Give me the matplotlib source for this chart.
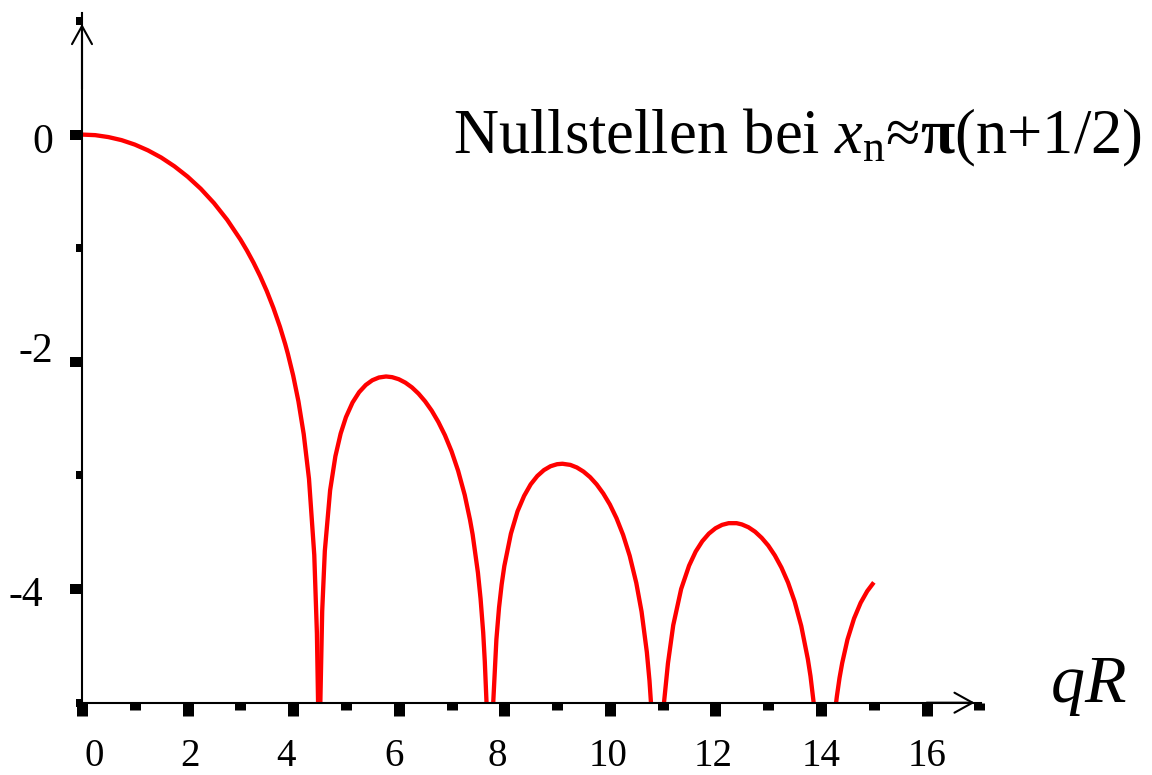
import numpy as np
import matplotlib
matplotlib.use("Agg")
import matplotlib.pyplot as plt

# log10 of the sphere form factor |F(qR)|^2, one list per lobe between the zeros
lobe_qr = [
    [0.0, 0.25, 0.5, 0.75, 1.0, 1.25, 1.5, 1.75, 2.0, 2.25, 2.5, 2.75, 3.0,
     3.125, 3.25, 3.375, 3.5, 3.625, 3.75, 3.85, 3.9, 4.0, 4.1, 4.2, 4.3, 4.4,
     4.45, 4.472],
    [4.515, 4.55, 4.6, 4.7, 4.8, 4.9, 5.0, 5.125, 5.25, 5.375, 5.5, 5.625,
     5.76, 5.875, 6.0, 6.125, 6.25, 6.375, 6.5, 6.625, 6.75, 6.875, 7.0, 7.125,
     7.25, 7.35, 7.4, 7.5, 7.55, 7.6, 7.63, 7.663],
    [7.79, 7.85, 7.9, 7.95, 8.0, 8.125, 8.25, 8.375, 8.5, 8.625, 8.75, 8.875,
     9.0, 9.1, 9.25, 9.375, 9.5, 9.625, 9.75, 9.875, 10.0, 10.125, 10.25,
     10.375, 10.5, 10.6, 10.7, 10.75, 10.778],
    [11.025, 11.1, 11.2, 11.35, 11.5, 11.625, 11.75, 11.875, 12.0, 12.125,
     12.25, 12.4, 12.5, 12.625, 12.75, 12.875, 13.0, 13.125, 13.25, 13.375,
     13.5, 13.625, 13.75, 13.8, 13.86],
    [14.285, 14.3, 14.35, 14.4, 14.5, 14.625, 14.75, 14.875, 15.0],
]
lobe_logI = [
    [0.0, -0.005, -0.022, -0.049, -0.088, -0.139, -0.202, -0.279, -0.370,
     -0.477, -0.603, -0.750, -0.923, -1.021, -1.128, -1.246, -1.377, -1.525,
     -1.692, -1.845, -1.930, -2.120, -2.348, -2.636, -3.03, -3.70, -4.39,
     -5.0],
    [-5.0, -4.194, -3.664, -3.131, -2.831, -2.631, -2.487, -2.358, -2.267,
     -2.204, -2.162, -2.138, -2.129, -2.135, -2.153, -2.183, -2.225, -2.280,
     -2.348, -2.430, -2.529, -2.646, -2.787, -2.959, -3.172, -3.390, -3.520,
     -3.855, -4.084, -4.383, -4.635, -5.0],
    [-5.0, -4.443, -4.163, -3.958, -3.798, -3.512, -3.316, -3.180, -3.078,
     -3.005, -2.953, -2.919, -2.901, -2.897, -2.907, -2.930, -2.966, -3.015,
     -3.079, -3.159, -3.256, -3.376, -3.523, -3.707, -3.946, -4.199, -4.555,
     -4.806, -5.0],
    [-5.0, -4.653, -4.318, -3.999, -3.794, -3.670, -3.579, -3.512, -3.465,
     -3.435, -3.420, -3.420, -3.431, -3.456, -3.495, -3.549, -3.617, -3.704,
     -3.811, -3.943, -4.110, -4.325, -4.617, -4.766, -5.0],
    [-5.0, -4.943, -4.782, -4.652, -4.445, -4.259, -4.121, -4.018, -3.941],
]

x_major = [0, 2, 4, 6, 8, 10, 12, 14, 16]
x_minor = [1, 3, 5, 7, 9, 11, 13, 15, 17]
x_labels = ["0", "2", "4", "6", "8", "10", "12", "14", "16"]
y_major = [0, -2, -4]
y_minor = [1, -1, -3, -5]
y_labels = ["0", "-2", "-4"]

# hand-tuned label nudges (pixels) for the tick numbers
x_label_dx = [12, 2, -7, -5, -7, -2, -2, 0, 0]
y_label_dx = [-29, -29, -39]
y_label_dy = [-18, 0, -17]

plt.rcParams["font.family"] = ["Liberation Serif", "DejaVu Serif"]
plt.rcParams["mathtext.fontset"] = "custom"
plt.rcParams["mathtext.rm"] = "Liberation Serif"
plt.rcParams["mathtext.it"] = "Liberation Serif:italic"
plt.rcParams["mathtext.bf"] = "Liberation Serif:bold"

PX = 72 / 100  # points per pixel

fig = plt.figure(figsize=(11.52, 7.75), dpi=100)
ax = fig.add_axes([82 / 1152, 72.3 / 775, 899 / 1152, 689.7 / 775])
ax.set_xlim(0, 17.03)
ax.set_ylim(-5, 1.07)

for qr, li in zip(lobe_qr, lobe_logI):
    ax.plot(qr, li, color="#ff0000", lw=3.1, solid_capstyle="butt",
            solid_joinstyle="round")

for side in ("top", "right"):
    ax.spines[side].set_visible(False)
for side in ("left", "bottom"):
    ax.spines[side].set_linewidth(1.5)
    ax.spines[side].set_color("black")

ax.set_xticks(x_major)
ax.set_xticks(x_minor, minor=True)
ax.set_yticks(y_major)
ax.set_yticks(y_minor, minor=True)
ax.tick_params(axis="x", which="major", direction="out", length=13 * PX,
               width=11 * PX, labelbottom=False)
ax.tick_params(axis="x", which="minor", direction="out", length=7 * PX,
               width=11 * PX)
ax.tick_params(axis="y", which="major", direction="out", length=12 * PX,
               width=10 * PX, labelleft=False)
ax.tick_params(axis="y", which="minor", direction="out", length=6 * PX,
               width=8 * PX)

for v, lab, dx in zip(x_major, x_labels, x_label_dx):
    ax.annotate(lab, xy=(v, -5), xytext=(dx * PX, -63.5 * PX),
                textcoords="offset points", ha="center", va="baseline",
                fontsize=28, annotation_clip=False)
for v, lab, dx, dy in zip(y_major, y_labels, y_label_dx, y_label_dy):
    ax.annotate(lab, xy=(0, v), xytext=(dx * PX, dy * PX),
                textcoords="offset points", ha="right", va="baseline",
                fontsize=30, annotation_clip=False)

# open arrow heads at the axis ends
arrow_kw = dict(arrowstyle="->,head_length=1.3,head_width=0.72", lw=1.5,
                color="black", shrinkA=0, shrinkB=0, mutation_scale=10)
ax.annotate("", xy=(0, 0.974), xytext=(0, 0.4), arrowprops=arrow_kw,
            annotation_clip=False)
ax.annotate("", xy=(16.91, -5), xytext=(16.0, -5), arrowprops=arrow_kw,
            annotation_clip=False)

fig.text(1142 / 1152, 1 - 153 / 775,
         r"Nullstellen bei $x_\mathrm{n}$≈$\mathbf{π}$(n+1/2)",
         ha="right", va="baseline", fontsize=45)
fig.text(1050 / 1152, 1 - 702 / 775, r"$qR$", ha="left", va="baseline",
         fontsize=49)

fig.savefig("out.png", dpi=100)
